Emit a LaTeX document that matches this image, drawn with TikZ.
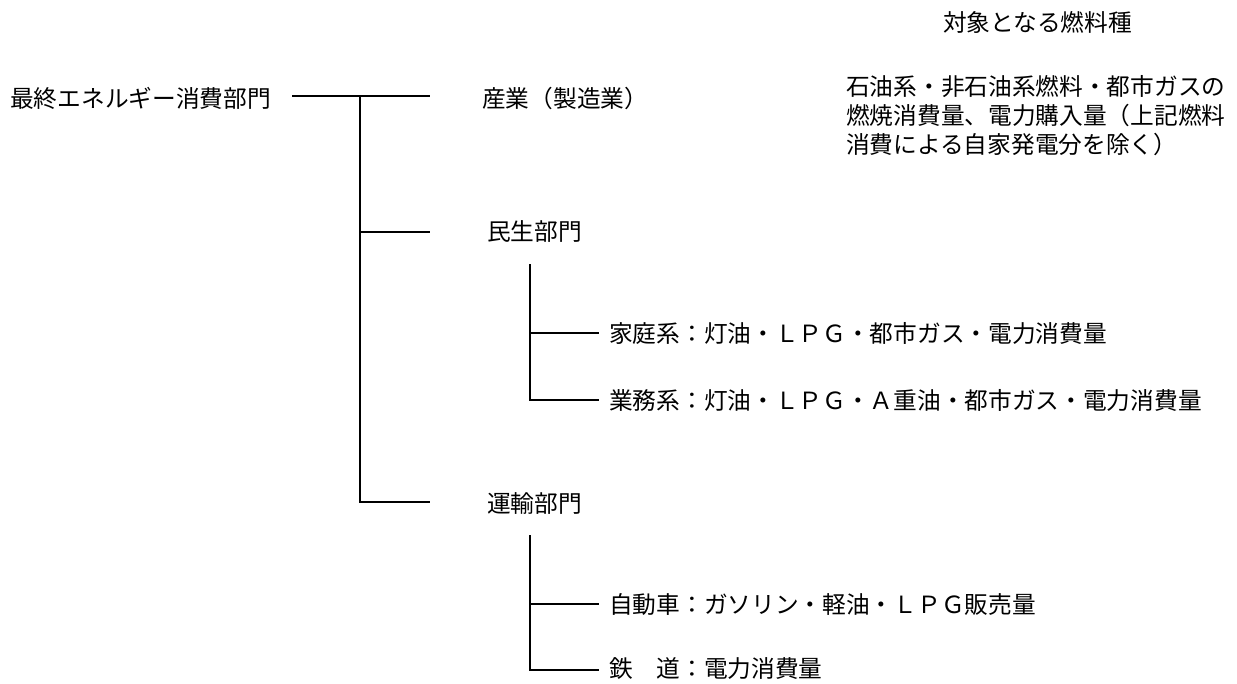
\documentclass[tikz,border=0pt]{standalone}
\usepackage{fontspec}
\setmainfont{Noto Sans CJK JP}
\begin{document}
\begin{tikzpicture}[x=1pt,y=-1pt,
  lbl/.style={anchor=west,inner sep=0pt,font=\fontsize{23.7}{29}\selectfont},
  conn/.style={line width=2.6pt,line cap=rect}]
\useasboundingbox (0,0) rectangle (1237,684);
% texts
\node[lbl] (root) at (10,98) {最終エネルギー消費部門};
\node[lbl] (ind) at (482,98) {産業（製造業）};
\node[lbl] (min) at (487,232) {民生部門};
\node[lbl] (kat) at (609,333) {家庭系：灯油・ＬＰＧ・都市ガス・電力消費量};
\node[lbl] (gyo) at (609,400) {業務系：灯油・ＬＰＧ・Ａ重油・都市ガス・電力消費量};
\node[lbl] (uny) at (487,503) {運輸部門};
\node[lbl] (car) at (609,605) {自動車：ガソリン・軽油・ＬＰＧ販売量};
\node[lbl] (rail) at (609,669) {鉄　道：電力消費量};
\node[lbl,anchor=center] (head) at (1037.5,22) {対象となる燃料種};
\node[lbl,align=left] (fuel) at (846,116) {石油系・非石油系燃料・都市ガスの\\燃焼消費量、電力購入量（上記燃料\\消費による自家発電分を除く）};
% connector points
\coordinate (r0) at (293,96);
\coordinate (t0) at (360,96);
\coordinate (t1) at (360,232);
\coordinate (t2) at (360,502);
\coordinate (e0) at (429,96);
\coordinate (e1) at (429,232);
\coordinate (e2) at (429,502);
\coordinate (m0) at (530,265);
\coordinate (m1) at (530,333);
\coordinate (m2) at (530,400);
\coordinate (f1) at (598,333);
\coordinate (f2) at (598,400);
\coordinate (u0) at (530,536);
\coordinate (u1) at (530,604);
\coordinate (u2) at (530,670);
\coordinate (g1) at (598,604);
\coordinate (g2) at (598,670);
% connectors
\draw[conn] (r0) -- (e0);
\draw[conn] (t0) -- (t2) -- (e2);
\draw[conn] (t1) -- (e1);
\draw[conn] (m0) -- (m2) -- (f2);
\draw[conn] (m1) -- (f1);
\draw[conn] (u0) -- (u2) -- (g2);
\draw[conn] (u1) -- (g1);
\end{tikzpicture}
\end{document}
